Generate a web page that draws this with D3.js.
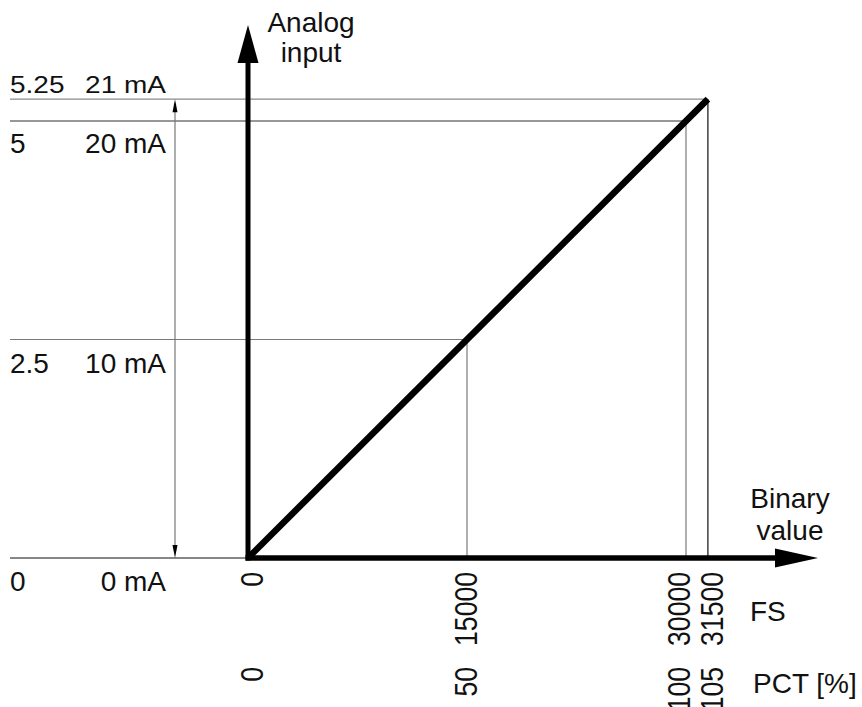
<!DOCTYPE html>
<html><head><meta charset="utf-8">
<script src="https://cdn.jsdelivr.net/npm/d3@7"></script>
<style>
html,body{margin:0;padding:0;background:#fff;}
text{font-family:"Liberation Sans",Arial,Helvetica,sans-serif;fill:#111;}
</style></head>
<body>
<svg id="chart" width="862" height="707"></svg>
<script>
// ---- data ----
const fsTicks = [0, 15000, 30000, 31500];
const fsLabels = ["0", "15000", "30000", "31500"];
const pctLabels = ["0", "50", "100", "105"];
const mAValues = [0, 10, 20, 21];
const mALabels = ["0 mA", "10 mA", "20 mA", "21 mA"];
const voltLabels = ["0", "2.5", "5", "5.25"];
const guideFs = [15000, 30000, 31500];
const guideMA = [10, 20, 21];
const characteristic = [[0, 0], [31500, 21]];

// ---- drawing ----
const svg = d3.select("#chart");
const x = d3.scaleLinear().domain([0, 30000]).range([248, 686]);
const y = d3.scaleLinear().domain([0, 20]).range([558, 121]);
const x0 = x(0), y0 = y(0);
const leftEdge = 10;

// horizontal guide lines
const hColors = {0: "#111", 10: "#7a7a7a", 20: "#333", 21: "#8a8a8a"};
mAValues.forEach((v) => {
  const xe = v === 0 ? x0 : x(v * 1500);
  svg.append("line").attr("x1", leftEdge).attr("x2", xe)
    .attr("y1", y(v)).attr("y2", y(v))
    .attr("stroke", hColors[v]).attr("stroke-width", 1.2);
});
// vertical guide lines
const vColors = ["#7a7a7a", "#7a7a7a", "#111"];
guideFs.forEach((f, i) => {
  svg.append("line").attr("x1", x(f)).attr("x2", x(f))
    .attr("y1", y(guideMA[i])).attr("y2", y0)
    .attr("stroke", vColors[i]).attr("stroke-width", 1.2);
});

// double arrow dimension line
const dimX = 175;
svg.append("line").attr("x1", dimX).attr("x2", dimX)
  .attr("y1", y(21) + 6).attr("y2", y0 - 6)
  .attr("stroke", "#777").attr("stroke-width", 1.2);
svg.append("path").attr("d", `M${dimX},${y(21)} L${dimX - 2.5},${y(21) + 13} L${dimX + 2.5},${y(21) + 13}Z`).attr("fill", "#000");
svg.append("path").attr("d", `M${dimX},${y0} L${dimX - 2.5},${y0 - 13} L${dimX + 2.5},${y0 - 13}Z`).attr("fill", "#000");

// axes (thick, with arrows)
svg.append("line").attr("x1", x0).attr("x2", x0).attr("y1", y0 + 2.5).attr("y2", 60)
  .attr("stroke", "#000").attr("stroke-width", 5);
svg.append("path").attr("d", `M${x0},25 L${x0 - 10.5},63 L${x0 + 10.5},63Z`).attr("fill", "#000");
svg.append("line").attr("x1", x0 - 2.5).attr("x2", 778).attr("y1", y0).attr("y2", y0)
  .attr("stroke", "#000").attr("stroke-width", 5.5);
svg.append("path").attr("d", `M818,${y0} L775,${y0 - 9.5} L775,${y0 + 9.5}Z`).attr("fill", "#000");

// characteristic line
svg.append("path")
  .attr("d", d3.line().x(d => x(d[0])).y(d => y(d[1]))(characteristic))
  .attr("fill", "none").attr("stroke", "#000").attr("stroke-width", 6.5)
  .attr("stroke-linecap", "butt");

// axis titles
const fs = 28;
svg.append("text").attr("x", 311).attr("y", 32).attr("text-anchor", "middle").attr("font-size", fs).text("Analog");
svg.append("text").attr("x", 311).attr("y", 62).attr("text-anchor", "middle").attr("font-size", fs).text("input");
svg.append("text").attr("x", 790).attr("y", 508).attr("text-anchor", "middle").attr("font-size", fs).text("Binary");
svg.append("text").attr("x", 790).attr("y", 540).attr("text-anchor", "middle").attr("font-size", fs).text("value");

// left labels
const labelOffsets = {0: 33, 10: 33, 20: 32, 21: -6};
mAValues.forEach((v, i) => {
  const by = y(v) + labelOffsets[v];
  const sy = v === 21 ? 0.85 : 1;
  svg.append("text").attr("transform", `translate(${leftEdge},${by}) scale(1,${sy})`)
    .attr("font-size", fs).text(voltLabels[i]);
  svg.append("text").attr("transform", `translate(166,${by}) scale(1,${sy})`)
    .attr("text-anchor", "end").attr("font-size", fs).text(mALabels[i]);
});

// rotated x labels
const shift = {0: 5, 15000: 0, 30000: -6, 31500: 5};
fsTicks.forEach((f, i) => {
  const tx = x(f) + shift[f] + 10;
  svg.append("text").attr("transform", `translate(${tx},572) rotate(-90) scale(0.95,1.1)`)
    .attr("text-anchor", "end").attr("font-size", fs).text(fsLabels[i]);
  svg.append("text").attr("transform", `translate(${tx},667) rotate(-90) scale(0.95,1.1)`)
    .attr("text-anchor", "end").attr("font-size", fs).text(pctLabels[i]);
});
svg.append("text").attr("x", 750).attr("y", 621).attr("font-size", fs).text("FS");
svg.append("text").attr("x", 753).attr("y", 693).attr("font-size", fs).text("PCT [%]");
</script>
</body></html>
